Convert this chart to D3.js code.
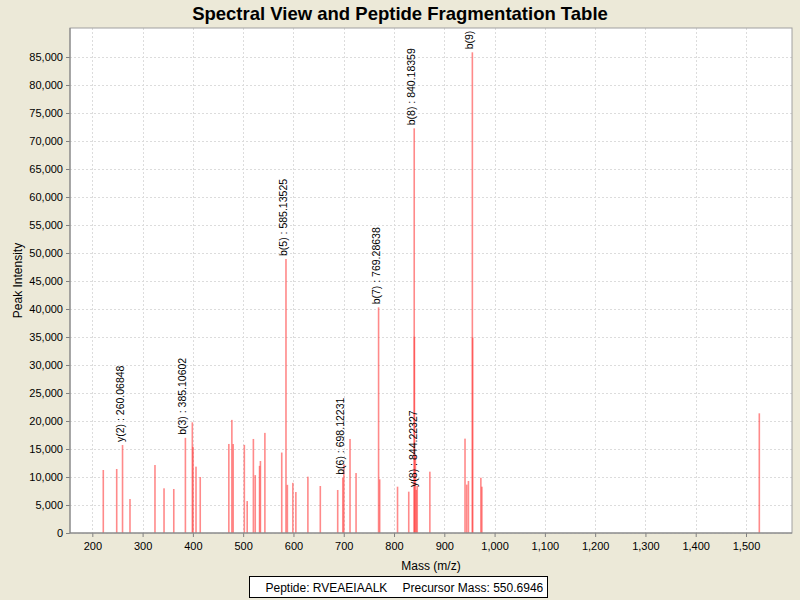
<!DOCTYPE html>
<html>
<head>
<meta charset="utf-8">
<script src="https://cdn.jsdelivr.net/npm/d3@7"></script>
<style>
  body { margin: 0; background: #ece9d8; }
  svg { display: block; font-family: "Liberation Sans", Arial, sans-serif; }
</style>
</head>
<body>
<div id="chart"></div>
<script>
// peak list
const peakMz = [221.8, 248.5, 260.07, 274.9, 324.6, 342.6, 362.0, 385.1, 398.9, 400.2,
  406.2, 414.6, 471.5, 477.5, 480.1, 502.3, 508.0, 520.3, 524.0, 532.6,
  534.3, 543.2, 576.7, 585.14, 587.9, 598.8, 604.8, 628.7, 653.4, 688.0,
  698.12, 700.2, 712.5, 724.5, 769.29, 771.5, 807.0, 829.3, 840.6, 840.18,
  842.5, 844.22, 846.2, 871.3, 941.2, 944.6, 948.0, 956.3, 955.8, 972.7,
  974.7, 1526.5];
const peakIntensity = [11250, 11430, 15710, 6070, 12140, 7980, 7860, 16990, 19760, 15400,
  11850, 10000, 15900, 20200, 15890, 15740, 5710, 16790, 10330, 11990,
  12860, 17880, 14370, 48930, 8600, 8960, 7320, 10060, 8390, 7680,
  9870, 12270, 16790, 10710, 40300, 9580, 8270, 7380, 35050, 72270,
  13930, 7700, 8390, 10950, 16850, 8640, 9290, 34900, 85840, 9870,
  8270, 21370];

// annotated fragment ions
const ionLabels = ['y(2) : 260.06848', 'b(3) : 385.10602', 'b(5) : 585.13525', 'b(6) : 698.12231',
  'b(7) : 769.28638', 'b(8) : 840.18359', 'y(8) : 844.22327', 'b(9) : 955.23611'];
const ionMz = [260.07, 385.1, 585.14, 698.12, 769.29, 840.18, 844.22, 955.8];
const ionIntensity = [15710, 16990, 48930, 9870, 40300, 72270, 7700, 85840];

const xTicks = d3.range(200, 1501, 100);
const yTicks = d3.range(0, 85001, 5000);

const title = 'Spectral View and Peptide Fragmentation Table';
const peptideText = 'Peptide: RVEAEIAALK';
const precursorText = 'Precursor Mass: 550.6946';

const W = 800, H = 600;
const margin = { top: 28, right: 8, bottom: 67, left: 70 };
const width = W - margin.left - margin.right;
const height = H - margin.top - margin.bottom;

const svg = d3.select('#chart').append('svg')
  .attr('width', W)
  .attr('height', H);

svg.append('rect').attr('width', W).attr('height', H).attr('fill', '#ece9d8');

svg.append('text')
  .attr('x', W / 2)
  .attr('y', 20)
  .attr('text-anchor', 'middle')
  .style('font-size', '18.5px')
  .style('font-weight', 'bold')
  .text(title);

const x = d3.scaleLinear().domain([155.6, 1591.5]).range([0, width]);
const y = d3.scaleLinear().domain([0, 90180]).range([height, 0]);

const g = svg.append('g').attr('transform', `translate(${margin.left},${margin.top})`);

g.append('defs').append('clipPath').attr('id', 'plotclip')
  .append('rect').attr('width', width).attr('height', height);

g.append('rect').attr('width', width).attr('height', height).attr('fill', '#fff');

// gridlines
g.append('g').selectAll('line').data(xTicks).enter().append('line')
  .attr('x1', d => Math.round(x(d)) + 0.5).attr('x2', d => Math.round(x(d)) + 0.5)
  .attr('y1', 0).attr('y2', height)
  .attr('stroke', '#dcdcdc').attr('stroke-dasharray', '2,2');
g.append('g').selectAll('line').data(yTicks).enter().append('line')
  .attr('y1', d => Math.round(y(d)) + 0.5).attr('y2', d => Math.round(y(d)) + 0.5)
  .attr('x1', 0).attr('x2', width)
  .attr('stroke', '#dcdcdc').attr('stroke-dasharray', '2,2');

// peaks
const peaks = peakMz.map((m, i) => ({ mz: m, intensity: peakIntensity[i] }));
const plot = g.append('g').attr('clip-path', 'url(#plotclip)');
plot.selectAll('.peak').data(peaks).enter().append('rect')
  .attr('class', 'peak')
  .attr('x', d => x(d.mz) - 0.8)
  .attr('width', 1.6)
  .attr('y', d => y(d.intensity))
  .attr('height', d => height - y(d.intensity))
  .attr('fill', '#ff3c3c')
  .attr('fill-opacity', 0.6);

// ion annotations (clipped at the plot edge, like b(9))
const ions = ionLabels.map((t, i) => ({ text: t, mz: ionMz[i], intensity: ionIntensity[i] }));
plot.selectAll('.ion').data(ions).enter().append('text')
  .attr('class', 'ion')
  .attr('transform', d => `translate(${x(d.mz) + 1},${y(d.intensity) - 3}) rotate(-90)`)
  .style('font-size', '10.5px')
  .attr('fill', '#000')
  .text(d => d.text);

// axes
const xAxis = d3.axisBottom(x).tickValues(xTicks).tickSize(4).tickFormat(d3.format(','));
const yAxis = d3.axisLeft(y).tickValues(yTicks).tickSize(4).tickFormat(d3.format(','));

const xg = g.append('g').attr('transform', `translate(0,${height})`).call(xAxis);
const yg = g.append('g').call(yAxis);
[xg, yg].forEach(a => {
  a.select('.domain').remove();
  a.selectAll('.tick line').attr('stroke', '#808080');
  a.selectAll('.tick text').style('font-size', '11px').attr('fill', '#000');
});
xg.selectAll('.tick text').attr('dy', '0.95em');

// plot border
g.append('rect').attr('width', width).attr('height', height)
  .attr('fill', 'none').attr('stroke', '#a0a0a0');
g.append('line').attr('x1', 0).attr('x2', 0).attr('y1', 0).attr('y2', height)
  .attr('stroke', '#808080');
g.append('line').attr('x1', 0).attr('x2', width).attr('y1', height).attr('y2', height)
  .attr('stroke', '#808080');

g.append('text')
  .attr('x', width / 2)
  .attr('y', height + 37)
  .attr('text-anchor', 'middle')
  .style('font-size', '12px')
  .text('Mass (m/z)');

g.append('text')
  .attr('transform', `translate(${-48},${height / 2}) rotate(-90)`)
  .attr('text-anchor', 'middle')
  .style('font-size', '12px')
  .text('Peak Intensity');

// legend box
const legend = svg.append('g').attr('transform', 'translate(249.5,576.5)');
legend.append('rect').attr('width', 298).attr('height', 21)
  .attr('fill', '#fff').attr('stroke', '#000');
legend.append('text').attr('x', 16).attr('y', 15).style('font-size', '12px').text(peptideText);
legend.append('text').attr('x', 153).attr('y', 15).style('font-size', '12px').text(precursorText);
</script>
</body>
</html>
